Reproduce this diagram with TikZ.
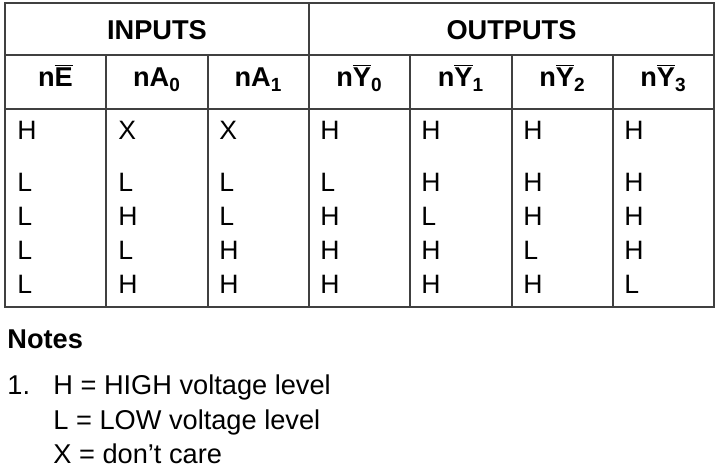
\documentclass[tikz,border=0pt]{standalone}
\usepackage{fontspec}
\setmainfont{Liberation Sans}
\usepackage{tikz}
\usetikzlibrary{positioning}

\begin{document}
\begin{tikzpicture}[x=0.5pt, y=-0.5pt]
% TikZ styles
\tikzset{
  grid/.style={draw=black!75, line width=1pt},
  group/.style={inner sep=0pt, font=\fontsize{13.6}{16}\selectfont\bfseries},
  head/.style={inner sep=0pt, anchor=base, font=\fontsize{13.6}{16}\selectfont\bfseries},
  cell/.style={inner sep=0pt, anchor=west, font=\fontsize{13.3}{16}\selectfont},
  note/.style={inner sep=0pt, anchor=base west, font=\fontsize{13.6}{16}\selectfont}
};
\useasboundingbox (0,0) rectangle (719,470);

%==========================
% Tabellenrahmen
%==========================
\draw[grid] (5,3) rectangle (714,307);
\draw[grid] (5,55.5) -- (714,55.5);
\draw[grid] (5,109) -- (714,109);
\draw[grid] (309,3) -- (309,307);
\foreach \x in {106,208,410,512,613}
  \draw[grid] (\x,55.5) -- (\x,307);

%==========================
% Kopfzeilen
%==========================
\node[group] (inputs)  at (157,30) {INPUTS};
\node[group] (outputs) at (511.5,30) {OUTPUTS};

\node[head] (ne)  at (55.5,87)  {n$\overline{\mbox{E}}$};
\node[head] (na0) at (157,87)   {nA\textsubscript{0}};
\node[head] (na1) at (258.5,87) {nA\textsubscript{1}};
\node[head] (ny0) at (359.5,87) {n$\overline{\mbox{Y}}$\textsubscript{0}};
\node[head] (ny1) at (461,87)   {n$\overline{\mbox{Y}}$\textsubscript{1}};
\node[head] (ny2) at (562.5,87) {n$\overline{\mbox{Y}}$\textsubscript{2}};
\node[head] (ny3) at (663.5,87) {n$\overline{\mbox{Y}}$\textsubscript{3}};

%==========================
% Zeilen
%==========================
\node[cell] (e1)  at (17,130)  {H};
\node[cell] (a01) at (118,130) {X};
\node[cell] (a11) at (219,130) {X};
\node[cell] (y01) at (320,130) {H};
\node[cell] (y11) at (421,130) {H};
\node[cell] (y21) at (523,130) {H};
\node[cell] (y31) at (624,130) {H};

\node[cell] (e2)  at (17,182)  {L};
\node[cell] (a02) at (118,182) {L};
\node[cell] (a12) at (219,182) {L};
\node[cell] (y02) at (320,182) {L};
\node[cell] (y12) at (421,182) {H};
\node[cell] (y22) at (523,182) {H};
\node[cell] (y32) at (624,182) {H};

\node[cell] (e3)  at (17,216)  {L};
\node[cell] (a03) at (118,216) {H};
\node[cell] (a13) at (219,216) {L};
\node[cell] (y03) at (320,216) {H};
\node[cell] (y13) at (421,216) {L};
\node[cell] (y23) at (523,216) {H};
\node[cell] (y33) at (624,216) {H};

\node[cell] (e4)  at (17,250)  {L};
\node[cell] (a04) at (118,250) {L};
\node[cell] (a14) at (219,250) {H};
\node[cell] (y04) at (320,250) {H};
\node[cell] (y14) at (421,250) {H};
\node[cell] (y24) at (523,250) {L};
\node[cell] (y34) at (624,250) {H};

\node[cell] (e5)  at (17,284)  {L};
\node[cell] (a05) at (118,284) {H};
\node[cell] (a15) at (219,284) {H};
\node[cell] (y05) at (320,284) {H};
\node[cell] (y15) at (421,284) {H};
\node[cell] (y25) at (523,284) {H};
\node[cell] (y35) at (624,284) {L};

%==========================
% Anmerkungen
%==========================
\node[note, font=\fontsize{13.6}{16}\selectfont\bfseries] (notes) at (7,349) {Notes};
\node[note] (num)   at (7,395)  {1.};
\node[note] (high)  at (53,395) {H = HIGH voltage level};
\node[note] (low)   at (53,430) {L = LOW voltage level};
\node[note] (care)  at (53,464) {X = don’t care};
\end{tikzpicture}
\end{document}
